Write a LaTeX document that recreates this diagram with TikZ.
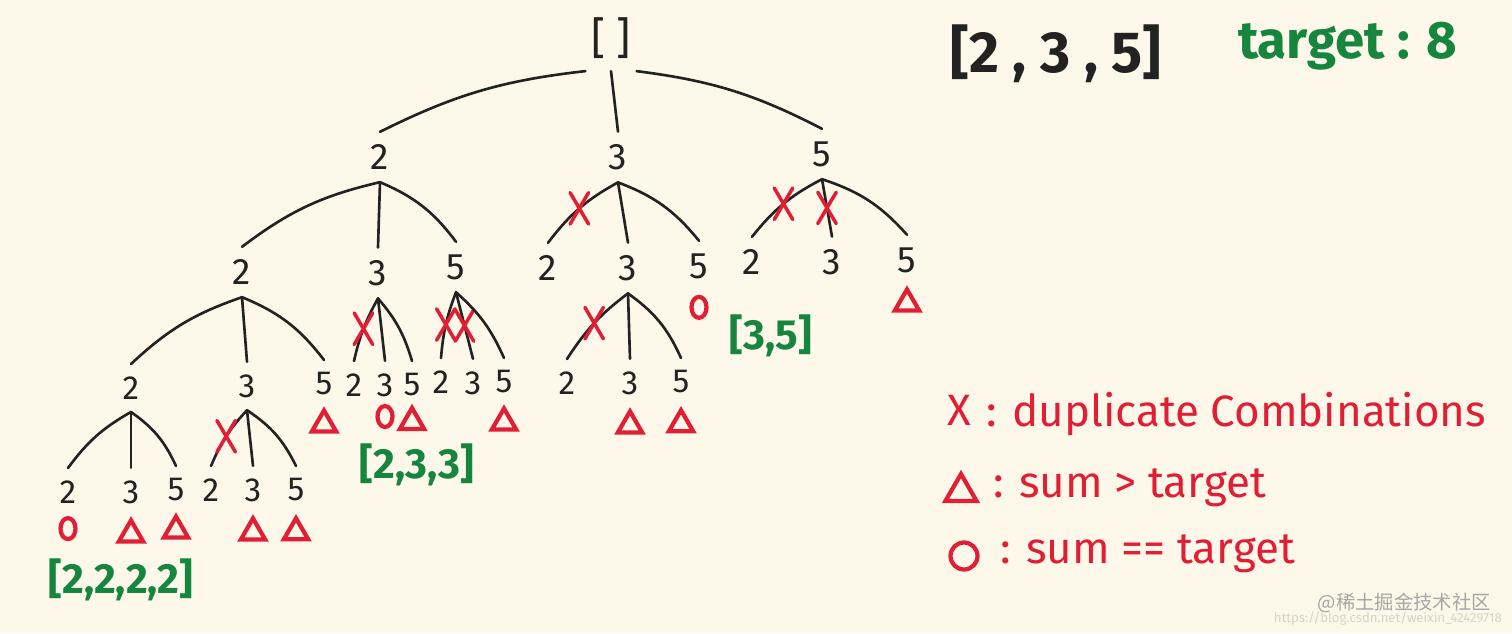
\documentclass[tikz,border=0pt]{standalone}
\usepackage{fontspec}
\setmainfont{Fira Sans}
\newfontfamily\cjk{Noto Sans CJK SC}
\usetikzlibrary{positioning,shapes.geometric,shapes.misc}

\definecolor{paper}{RGB}{253,248,233}
\definecolor{ink}{RGB}{34,34,34}
\definecolor{hired}{RGB}{226,30,52}
\definecolor{higreen}{RGB}{22,134,62}

\newcommand*{\wpx}{1512}
\newcommand*{\hpx}{633}

\begin{document}
\begin{tikzpicture}
[
	x=0.02cm, y=-0.02cm,
	num/.style={font=\fontsize{21}{21}\selectfont,text=ink,inner xsep=3pt,inner ysep=7pt},
	lownum/.style={num,font=\fontsize{19}{19}\selectfont},
	branch/.style={draw=ink,line width=1.5pt,line cap=round},
	dupmark/.style={cross out,draw=hired,line width=2pt,minimum width=0.3cm,minimum height=0.56cm,inner sep=0pt},
	gtmark/.style={regular polygon,regular polygon sides=3,draw=hired,line width=2.4pt,minimum size=0.56cm,inner sep=0pt},
	eqmark/.style={ellipse,draw=hired,line width=2.4pt,minimum width=0.3cm,minimum height=0.42cm,inner sep=0pt},
	combo/.style={font=\bfseries\fontsize{24}{24}\selectfont,text=higreen},
	keytext/.style={font=\fontsize{25}{25}\selectfont,text=hired,anchor=base west,inner sep=0pt}
]

	% paper
	\fill[paper] (0,0) rectangle (\wpx,\hpx);
	\useasboundingbox (0,0) rectangle (\wpx,\hpx);

	% root
	\node[num,font=\fontsize{25}{25}\selectfont] at (611,38) (root) {[ ]};
	\node[num] at (380,157) (a2) {2};
	\node[num] at (618,157) (a3) {3};
	\node[num] at (822,154) (a5) {5};
	\draw[branch] (root.south west) to[bend right=10] (a2.north);
	\draw[branch] (root.south) -- (a3.north);
	\draw[branch] (root.south east) to[bend left=10] (a5.north);

	% [2]
	\node[num] at (242,272) (b22) {2};
	\node[num] at (378,273) (b23) {3};
	\node[num] at (456,267) (b25) {5};
	\draw[branch] (a2.south) to[bend right=12] (b22.north);
	\draw[branch] (a2.south) -- (b23.north);
	\draw[branch] (a2.south) to[bend left=15] (b25.north);

	% [3]
	\node[num] at (548,268) (b32) {2};
	\node[num] at (628,268) (b33) {3};
	\node[num] at (699,266) (b35) {5};
	\draw[branch] (a3.south) to[bend right=12] node[dupmark] {} (b32.north);
	\draw[branch] (a3.south) -- (b33.north);
	\draw[branch] (a3.south) to[bend left=15] (b35.north);
	\node[eqmark,below=2pt of b35] (e35) {};

	% [5]
	\node[num] at (752,262) (b52) {2};
	\node[num] at (832,262) (b53) {3};
	\node[num] at (907,260) (b55) {5};
	\draw[branch] (a5.south) to[bend right=12] node[dupmark] {} (b52.north);
	\draw[branch] (a5.south) -- node[dupmark] {} (b53.north);
	\draw[branch] (a5.south) to[bend left=15] (b55.north);
	\node[gtmark,below=0pt of b55] (g55) {};

	% [2,2]
	\node[lownum] at (131,388) (c222) {2};
	\node[lownum] at (247,386) (c223) {3};
	\node[lownum] at (324,384) (c225) {5};
	\draw[branch] (b22.south) to[bend right=12] (c222.north);
	\draw[branch] (b22.south) -- (c223.north);
	\draw[branch] (b22.south) to[bend left=15] (c225.north);
	\node[gtmark,below=-1pt of c225] (g225) {};

	% [2,3]
	\node[lownum] at (354,385) (c232) {2};
	\node[lownum] at (385,385) (c233) {3};
	\node[lownum] at (412,385) (c235) {5};
	\draw[branch] (b23.south) to[bend right=8] node[dupmark] {} (c232.north);
	\draw[branch] (b23.south) -- (c233.north);
	\draw[branch] (b23.south) to[bend left=12] (c235.north);
	\node[eqmark,below=-3pt of c233] (e233) {};
	\node[gtmark,below=-3pt of c235] (g235) {};

	% [2,5]
	\node[lownum] at (441,382) (c252) {2};
	\node[lownum] at (473,383) (c253) {3};
	\node[lownum] at (504,382) (c255) {5};
	\draw[branch] (b25.south) to[bend right=8] node[dupmark] {} (c252.north);
	\draw[branch] (b25.south) -- node[dupmark] {} (c253.north);
	\draw[branch] (b25.south) to[bend left=12] (c255.north);
	\node[gtmark,below=-1pt of c255] (g255) {};

	% [3,3]
	\node[lownum] at (567,383) (c332) {2};
	\node[lownum] at (630,383) (c333) {3};
	\node[lownum] at (681,382) (c335) {5};
	\draw[branch] (b33.south) to[bend right=10] node[dupmark] {} (c332.north);
	\draw[branch] (b33.south) -- (c333.north);
	\draw[branch] (b33.south) to[bend left=15] (c335.north);
	\node[gtmark,below=0pt of c333] (g333) {};
	\node[gtmark,below=0pt of c335] (g335) {};

	% [2,2,2]
	\node[lownum] at (68,492) (d2222) {2};
	\node[lownum] at (131,492) (d2223) {3};
	\node[lownum] at (176,490) (d2225) {5};
	\draw[branch] (c222.south) to[bend right=12] (d2222.north);
	\draw[branch] (c222.south) -- (d2223.north);
	\draw[branch] (c222.south) to[bend left=15] (d2225.north);
	\node[eqmark,below=0pt of d2222] (e2222) {};
	\node[gtmark,below=0pt of d2223] (g2223) {};
	\node[gtmark,below=-1pt of d2225] (g2225) {};

	% [2,2,3]
	\node[lownum] at (211,490) (d2232) {2};
	\node[lownum] at (253,490) (d2233) {3};
	\node[lownum] at (296,490) (d2235) {5};
	\draw[branch] (c223.south) to[bend right=10] node[dupmark] {} (d2232.north);
	\draw[branch] (c223.south) -- (d2233.north);
	\draw[branch] (c223.south) to[bend left=15] (d2235.north);
	\node[gtmark,below=0pt of d2233] (g2233) {};
	\node[gtmark,below=0pt of d2235] (g2235) {};

	% answers
	\node[combo] at (121,580) (s2222) {[2,2,2,2]};
	\node[combo] at (417,465) (s233) {[2,3,3]};
	\node[combo] at (771,336) (s35) {[3,5]};

	% task
	\node[font=\bfseries\fontsize{33}{33}\selectfont,text=ink,anchor=base west] at (944,72) (nums) {[2 , 3 , 5]};
	\node[font=\bfseries\fontsize{30}{30}\selectfont,text=higreen,anchor=base west] at (1232,58) (tgt) {target : 8};

	% key
	\node[font=\fontsize{25}{25}\selectfont,text=hired] at (959,410) (kx) {X};
	\node[keytext] at (986,426) (kxt) {: duplicate Combinations};
	\node[gtmark,minimum size=0.72cm] at (961,492) (kg) {};
	\node[keytext] at (993,497) (kgt) {: sum > target};
	\node[eqmark,minimum width=0.54cm,minimum height=0.54cm] at (964,556) (ke) {};
	\node[keytext] at (1000,563) (ket) {: sum == target};

	% watermark
	\node[font=\cjk\fontsize{11}{11}\selectfont,text=black!35,anchor=east] at (1497,603) (wm) {@稀土掘金技术社区};
	\node[font=\fontsize{7.5}{7.5}\selectfont,text=paper!85!black,anchor=east] at (1508,619) (url) {https://blog.csdn.net/weixin\_42429718};

\end{tikzpicture}
\end{document}
